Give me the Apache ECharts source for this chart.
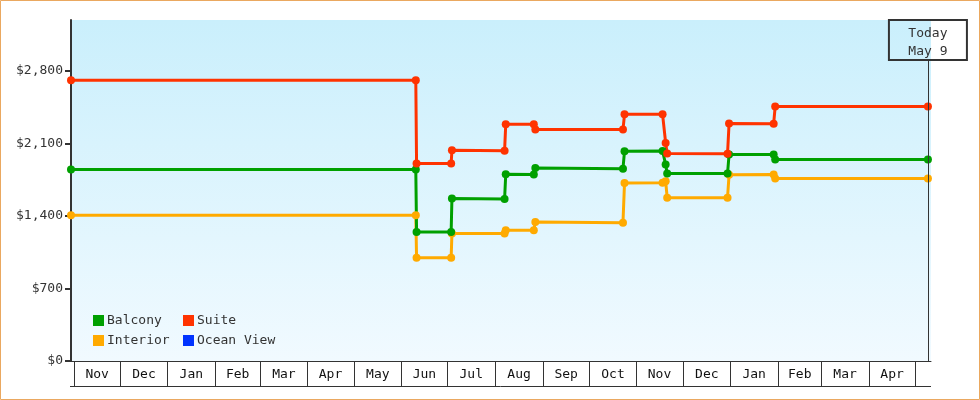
<!DOCTYPE html>
<html>
<head>
<meta charset="utf-8">
<script src="https://cdn.jsdelivr.net/npm/echarts@6/dist/echarts.min.js"></script>
<style>
html,body{margin:0;padding:0;background:#fff;}
#c{width:980px;height:400px;}
</style>
</head>
<body>
<div id="c"></div>
<script>
// ---- data ----
const dates = ['2023-10-30T06:00','2024-06-10T12:00','2024-06-11T00:00','2024-07-03T12:00','2024-07-04T00:00',
  '2024-08-07T06:00','2024-08-08T00:00','2024-08-26T06:00','2024-08-27T06:00','2024-10-23T06:00','2024-10-24T06:00',
  '2024-11-18T00:00','2024-11-20T00:00','2024-11-21T00:00','2024-12-30T06:00','2024-12-31T06:00',
  '2025-01-29T06:00','2025-01-30T06:00','2025-05-09T14:00'];
const balcony  = [1848,1848,1245,1245,1567,1563,1802,1800,1862,1856,2024,2026,1897,1808,1808,1992,1992,1945,1945];
const suite    = [2708,2708,1905,1905,2033,2028,2284,2284,2233,2233,2380,2380,2104,2001,1999,2291,2290,2456,2456];
const interior = [1407,1407, 997, 997,1229,1229,1261,1261,1341,1335,1718,1720,1735,1576,1576,1796,1799,1760,1760];
const oceanView = [];
const monthStarts = ['2023-11-01','2023-12-01','2024-01-01','2024-02-01','2024-03-01','2024-04-01','2024-05-01',
  '2024-06-01','2024-07-01','2024-08-01','2024-09-01','2024-10-01','2024-11-01','2024-12-01','2025-01-01',
  '2025-02-01','2025-03-01','2025-04-01','2025-05-01'];
const monthLabels = ['Nov','Dec','Jan','Feb','Mar','Apr','May','Jun','Jul','Aug','Sep','Oct','Nov','Dec','Jan','Feb','Mar','Apr',''];
const yTicks = [0, 700, 1400, 2100, 2800];
const xRange = ['2023-10-30T06:00','2025-05-11T14:00'];
const todayDate = '2025-05-09T14:00';
const todayLabel = ['Today','May 9'];
const yMax = 3290;

// ---- helpers ----
const t = s => new Date(s.length === 10 ? s + 'T00:00:00' : s + ':00').getTime();
const FONT = '"DejaVu Sans Mono", "Liberation Mono", monospace';
const colors = {Balcony:'#00a000', Suite:'#ff3300', Interior:'#ffaa00', 'Ocean View':'#0033ff'};
const xMin = t(xRange[0]), xMax = t(xRange[1]);

const monthData = monthStarts.map((m, i) => [t(m), i + 1 < monthStarts.length ? t(monthStarts[i + 1]) : xMax, 0]);

function lineSeries(name, vals) {
  return {
    name, type: 'line', data: vals.map((v, i) => [t(dates[i]), v]),
    symbol: 'circle', symbolSize: 8, showSymbol: true,
    lineStyle: {width: 3, color: colors[name]}, itemStyle: {color: colors[name]},
    emphasis: {disabled: true}, animation: false
  };
}

function renderMonth(params, api) {
  const cs = params.coordSys;
  const x0 = Math.round(api.coord([api.value(0), 0])[0]) + 0.5;
  const x1 = api.coord([api.value(1), 0])[0];
  const y0 = cs.y + cs.height;
  const h = 25;
  const children = [
    {type: 'line', shape: {x1: x0, y1: y0, x2: x0, y2: y0 + h}, style: {stroke: '#333', lineWidth: 1}},
    {type: 'text', style: {x: (x0 + x1) / 2, y: y0 + h / 2 + 1, text: monthLabels[params.dataIndex],
      align: 'center', verticalAlign: 'middle', font: '13px ' + FONT, fill: '#111'}}
  ];
  if (params.dataIndex === 0) {
    const yb = Math.round(y0 + h) + 0.5;
    children.push({type: 'line', shape: {x1: cs.x - 1, y1: yb, x2: cs.x + cs.width, y2: yb}, style: {stroke: '#333', lineWidth: 1}});
  }
  return {type: 'group', children};
}

const chart = echarts.init(document.getElementById('c'));
const suiteS = lineSeries('Suite', suite);
suiteS.markLine = {
  silent: true, symbol: ['none', 'none'], animation: false,
  lineStyle: {color: '#333', width: 1, type: 'solid'},
  label: {
    show: true, position: 'end', distance: 0,
    formatter: todayLabel.join('\n'),
    fontFamily: FONT, fontSize: 13, color: '#333', lineHeight: 17.5,
    width: 78, align: 'center', padding: [5, 0, 0, 0],
    borderColor: '#333', borderWidth: 1, backgroundColor: 'transparent'
  },
  data: [[{coord: [t(todayDate), 0]}, {coord: [t(todayDate), 2903]}]]
};

const legendCommon = {orient: 'vertical', top: 314, itemGap: 7, padding: 0,
  icon: 'rect', itemWidth: 11, itemHeight: 11, selectedMode: false,
  textStyle: {fontFamily: FONT, fontSize: 13, color: '#333', padding: [0, 0, 0, -2]}};

chart.setOption({
  animation: false,
  graphic: [{type: 'rect', shape: {x: 0.5, y: 0.5, width: 979, height: 399}, style: {fill: 'none', stroke: '#eaa860', lineWidth: 1}, z: 100}],
  grid: {
    left: 71, right: 49, top: 20, bottom: 39, show: true, borderWidth: 0,
    backgroundColor: {type: 'linear', x: 0, y: 0, x2: 0, y2: 1,
      colorStops: [{offset: 0, color: '#caeffc'}, {offset: 1, color: '#f1faff'}]}
  },
  legend: [
    Object.assign({data: ['Balcony', 'Interior'], left: 93}, legendCommon),
    Object.assign({data: ['Suite', 'Ocean View'], left: 183}, legendCommon)
  ],
  xAxis: {
    type: 'time', min: xMin, max: xMax,
    axisLine: {show: true, lineStyle: {color: '#333', width: 1}},
    axisTick: {show: false}, axisLabel: {show: false}, splitLine: {show: false}
  },
  yAxis: {
    type: 'value', min: 0, max: yMax,
    axisLine: {show: true, lineStyle: {color: '#333', width: 2}},
    axisTick: {show: true, length: 6, customValues: yTicks, lineStyle: {color: '#333', width: 2}},
    axisLabel: {margin: 8, fontFamily: FONT, fontSize: 13, color: '#333', customValues: yTicks,
      formatter: v => '$' + v.toLocaleString('en-US')},
    splitLine: {show: false}
  },
  series: [
    lineSeries('Interior', interior),
    lineSeries('Balcony', balcony),
    suiteS,
    lineSeries('Ocean View', oceanView),
    {type: 'custom', name: 'months', data: monthData, renderItem: renderMonth, clip: false,
     encode: {x: [0, 1], y: 2}, silent: true, animation: false, z: 5}
  ]
});
</script>
</body>
</html>
